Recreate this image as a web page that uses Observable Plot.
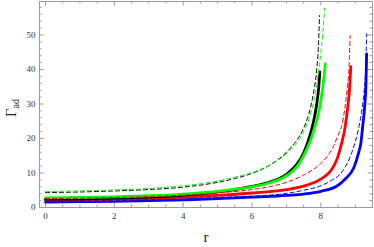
<!DOCTYPE html>
<html><head><meta charset="utf-8">
<script src="https://cdn.jsdelivr.net/npm/d3@7"></script>
<script src="https://cdn.jsdelivr.net/npm/@observablehq/plot@0.6"></script>
<style>body{margin:0;background:#fff}</style>
</head><body><div id="chart"></div>
<script>
// Tick labels
const xMajorTicks = [0, 2, 4, 6, 8];
const yMajorTicks = [0, 10, 20, 30, 40, 50];
const xMinorTicks = [0.5, 1, 1.5, 2.5, 3, 3.5, 4.5, 5, 5.5, 6.5, 7, 7.5, 8.5, 9, 9.5];
const yMinorTicks = [2, 4, 6, 8, 12, 14, 16, 18, 22, 24, 26, 28, 32, 34, 36, 38, 42, 44, 46, 48, 52, 54, 56, 58];

// Series values (r, Gamma_ad)
const rGreenDashed = [0, 1, 2, 3, 4, 5, 5.5, 6, 6.5, 6.8, 7.1, 7.3, 7.5, 7.7, 7.8, 7.9, 8.0, 8.06, 8.11];
const gGreenDashed = [4.6, 4.8, 5.1, 5.5, 6.3, 7.7, 8.8, 10.1, 12.2, 14.0, 16.5, 18.6, 22, 27, 31, 37, 45, 51, 57.8];

const rBlackDashed = [0, 1, 2, 3, 4, 5, 5.5, 6, 6.5, 7, 7.3, 7.5, 7.7, 7.8, 7.88, 7.93, 7.96];
const gBlackDashed = [4.3, 4.5, 4.8, 5.2, 5.9, 7.3, 8.4, 9.9, 12.2, 16, 19.5, 23, 29, 34, 40, 47, 55.6];

const rGreenSolid = [0, 1, 2, 3, 4, 5, 5.5, 6, 6.5, 7, 7.3, 7.5, 7.7, 7.8, 7.9, 8.0, 8.07, 8.13];
const gGreenSolid = [2.8, 2.9, 3.1, 3.4, 3.9, 4.7, 5.3, 6.0, 7.1, 9.2, 11.8, 15.0, 19.5, 22.5, 26, 31, 36, 41.6];

const rBlackSolid = [0, 1, 2, 3, 4, 5, 5.5, 6, 6.5, 7, 7.3, 7.5, 7.7, 7.8, 7.88, 7.94, 7.97];
const gBlackSolid = [2.4, 2.5, 2.7, 3.0, 3.6, 4.5, 5.2, 6.1, 7.3, 9.6, 12.5, 15.8, 21.5, 25.5, 30, 35, 39.3];

const rRedDashed = [0, 1, 2, 3, 4, 5, 6, 6.5, 7, 7.5, 8.0, 8.2, 8.38, 8.5, 8.6, 8.7, 8.77, 8.82, 8.85];
const gRedDashed = [2.6, 2.7, 2.9, 3.2, 3.6, 4.2, 5.2, 6.0, 7.3, 9.4, 12.8, 15, 18, 21, 23.5, 29, 35, 41, 49.8];

const rRedSolid = [0, 1, 2, 3, 4, 5, 6, 6.5, 7, 7.5, 7.9, 8.1, 8.3, 8.48, 8.6, 8.7, 8.78, 8.83, 8.87];
const gRedSolid = [2.1, 2.2, 2.3, 2.6, 3.0, 3.5, 4.2, 4.6, 5.2, 6.2, 7.7, 8.9, 10.8, 14.3, 18.5, 23, 29, 34, 40.8];

const rBlueDashed = [0, 1, 2, 3, 4, 5, 6, 7, 7.5, 8.0, 8.3, 8.58, 8.8, 8.95, 9.08, 9.18, 9.25, 9.3, 9.33];
const gBlueDashed = [1.8, 1.9, 2.0, 2.2, 2.5, 2.9, 3.3, 4.1, 5.0, 6.3, 7.8, 9.9, 13.5, 17.5, 22.2, 27.5, 33, 40, 50.3];

const rBlueSolid = [0, 1, 2, 3, 4, 5, 6, 6.54, 7, 7.5, 8, 8.48, 8.7, 8.96, 9.1, 9.16, 9.22, 9.27, 9.31, 9.33];
const gBlueSolid = [1.6, 1.7, 1.8, 2.0, 2.2, 2.6, 3.0, 3.2, 3.5, 3.9, 4.7, 6.3, 8.2, 11.6, 16, 18.5, 24, 29, 36, 44.5];

const toRows = (rs, gs) => rs.map((r, i) => ({r, g: gs[i]}));

const solidSeries = [
  {color: "#0000ff", rows: toRows(rBlueSolid, gBlueSolid)},
  {color: "#ff0000", rows: toRows(rRedSolid, gRedSolid)},
  {color: "#000000", rows: toRows(rBlackSolid, gBlackSolid)},
  {color: "#00ff00", rows: toRows(rGreenSolid, gGreenSolid)}
];
const dashedSeries = [
  {color: "#0000ff", rows: toRows(rBlueDashed, gBlueDashed)},
  {color: "#ff0000", rows: toRows(rRedDashed, gRedDashed)},
  {color: "#000000", rows: toRows(rBlackDashed, gBlackDashed)},
  {color: "#00ff00", rows: toRows(rGreenDashed, gGreenDashed)}
];

const W = 374, H = 247;
const mL = 39, mR = 2, mT = 1, mB = 40;
const iw = W - mL - mR, ih = H - mT - mB;
const tickColor = "#9a9a9a";
const major = 4.5, minor = 2.5;

const marks = [
  Plot.frame({stroke: tickColor, strokeWidth: 1}),
  // y ticks left/right
  Plot.tickY(yMajorTicks, {y: d => d, stroke: tickColor, insetRight: iw - major}),
  Plot.tickY(yMinorTicks, {y: d => d, stroke: tickColor, insetRight: iw - minor}),
  Plot.tickY(yMajorTicks, {y: d => d, stroke: tickColor, insetLeft: iw - major}),
  Plot.tickY(yMinorTicks, {y: d => d, stroke: tickColor, insetLeft: iw - minor}),
  // x ticks bottom/top
  Plot.tickX(xMajorTicks, {x: d => d, stroke: tickColor, insetTop: ih - major}),
  Plot.tickX(xMinorTicks, {x: d => d, stroke: tickColor, insetTop: ih - minor}),
  Plot.tickX(xMajorTicks, {x: d => d, stroke: tickColor, insetBottom: ih - major}),
  Plot.tickX(xMinorTicks, {x: d => d, stroke: tickColor, insetBottom: ih - minor}),
  Plot.axisX({ticks: xMajorTicks, tickSize: 0, tickPadding: 5, label: null, fill: "#333"}),
  Plot.axisY({ticks: yMajorTicks, tickSize: 0, tickPadding: 4, label: null, fill: "#333"}),
  ...solidSeries.map(s => Plot.line(s.rows, {x: "r", y: "g", stroke: s.color, strokeWidth: 2.8, curve: "monotone-x"})),
  ...dashedSeries.map(s => Plot.line(s.rows, {x: "r", y: "g", stroke: s.color, strokeWidth: 1, strokeDasharray: "4,3", curve: "monotone-x"})),
  Plot.text(["r"], {frameAnchor: "bottom", dy: 34, text: d => d, fontSize: 15, fill: "#222", lineAnchor: "bottom"})
];

const svg = Plot.plot({
  width: W, height: H,
  marginLeft: mL, marginRight: mR, marginTop: mT, marginBottom: mB,
  x: {domain: [-0.174, 9.5]},
  y: {domain: [0, 59.7]},
  style: {fontFamily: "'Liberation Serif', serif", fontSize: "9px", background: "#fff", overflow: "visible"},
  marks
});

// y axis title with subscript
const s = d3.select(svg);
const t = s.append("text")
  .attr("transform", "translate(16,108) rotate(-90)")
  .attr("text-anchor", "middle")
  .attr("fill", "#222")
  .style("font-family", "'Liberation Serif', serif")
  .style("font-size", "15px");
t.append("tspan").text("Γ");
t.append("tspan").attr("dy", "3").style("font-size", "10px").text("ad");

document.getElementById("chart").appendChild(svg);
</script>
</body></html>
